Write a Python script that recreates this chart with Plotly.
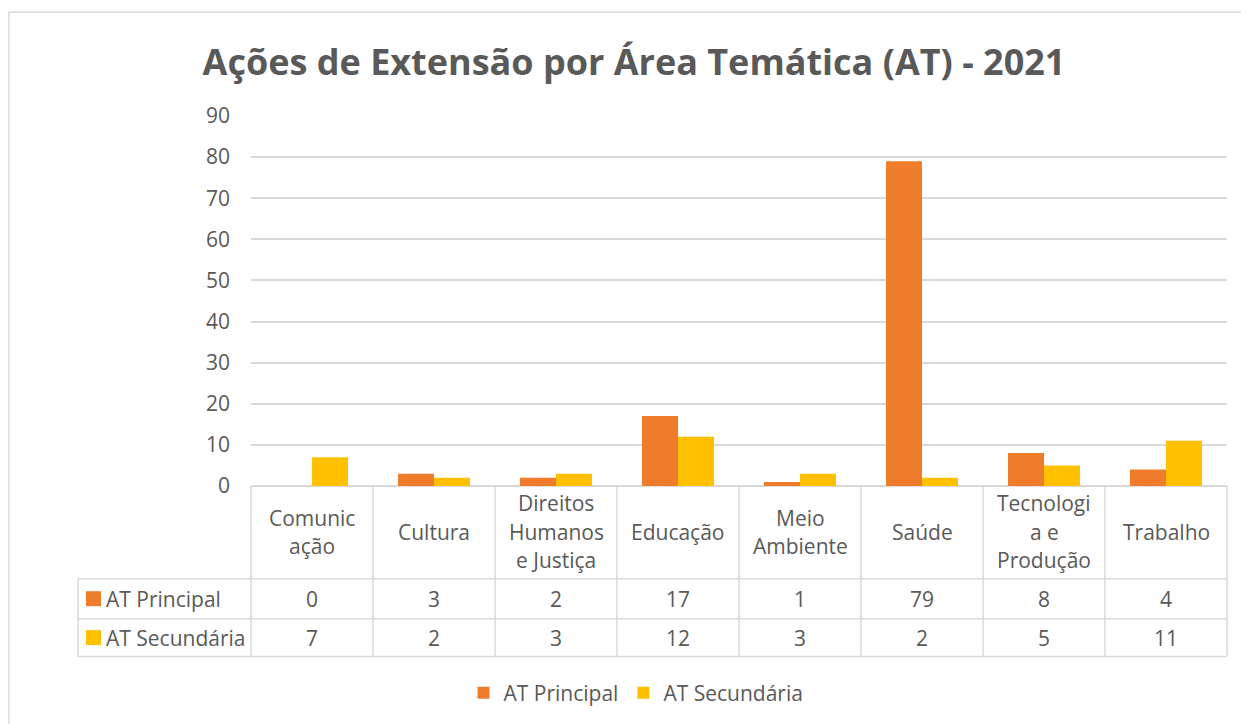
import plotly.graph_objects as go

# Dados
categorias = ["Comunicação", "Cultura", "Direitos Humanos e Justiça", "Educação",
              "Meio Ambiente", "Saúde", "Tecnologia e Produção", "Trabalho"]
rotulos = [["Comunic", "ação"], ["Cultura"], ["Direitos", "Humanos", "e Justiça"],
           ["Educação"], ["Meio", "Ambiente"], ["Saúde"],
           ["Tecnologi", "a e", "Produção"], ["Trabalho"]]
at_principal = [0, 3, 2, 17, 1, 79, 8, 4]
at_secundaria = [7, 2, 3, 12, 3, 2, 5, 11]
series = ["AT Principal", "AT Secundária"]
cores = ["#EF7C2A", "#FFC000"]

# a página tem margem de 8px no body; tudo é deslocado por isso
OFF = 8
W, H = 1249 - OFF, 724 - OFF
L, R, T, B = 251 - OFF, 1227 - OFF, 116 - OFF, 487 - OFF
CINZA = "#595959"
LINHA = "#D9D9D9"
FONTE = "Open Sans"
FS = 21


def px(x):
    return (x - OFF - L) / (R - L)


def py(y):
    return (B - (y - OFF)) / (B - T)


fig = go.Figure()
for nome, vals, cor in zip(series, [at_principal, at_secundaria], cores):
    fig.add_trace(go.Bar(x=categorias, y=vals, name=nome, marker_color=cor,
                         marker_line_width=0))

shapes = []
anots = []

# borda externa do gráfico
shapes.append(dict(type="rect", xref="paper", yref="paper", x0=px(9), x1=px(1270),
                   y0=py(760), y1=py(12), line=dict(color=LINHA, width=1.5)))

# tabela de dados
n = len(categorias)
larg = (1227 - 251) / n
for y in [580, 620, 658]:
    shapes.append(dict(type="line", xref="paper", yref="paper", x0=px(78), x1=px(1227),
                       y0=py(y), y1=py(y), line=dict(color=LINHA, width=1.5)))
for i in range(n + 1):
    shapes.append(dict(type="line", xref="paper", yref="paper", x0=px(251 + i * larg),
                       x1=px(251 + i * larg), y0=py(487), y1=py(658),
                       line=dict(color=LINHA, width=1.5)))
shapes.append(dict(type="line", xref="paper", yref="paper", x0=px(78), x1=px(78),
                   y0=py(580), y1=py(658), line=dict(color=LINHA, width=1.5)))

# cabeçalho das categorias
for i, linhas in enumerate(rotulos):
    k = len(linhas)
    for j, t in enumerate(linhas):
        yc = 533 + (j - (k - 1) / 2) * 28.5
        anots.append(dict(text=t, xref="paper", yref="paper", x=px(251 + (i + 0.5) * larg),
                          y=py(yc), showarrow=False, xanchor="center", yanchor="middle",
                          font=dict(size=FS, color=CINZA, family=FONTE)))

# valores e chaves da legenda
for nome, vals, cor, yc in zip(series, [at_principal, at_secundaria], cores, [600, 639]):
    shapes.append(dict(type="rect", xref="paper", yref="paper", x0=px(86), x1=px(101),
                       y0=py(yc + 7.5), y1=py(yc - 7.5), fillcolor=cor, line_width=0))
    anots.append(dict(text=nome, xref="paper", yref="paper", x=px(104), y=py(yc),
                      showarrow=False, xanchor="left", yanchor="middle",
                      font=dict(size=FS, color=CINZA, family=FONTE)))
    for i, v in enumerate(vals):
        anots.append(dict(text=str(v), xref="paper", yref="paper",
                          x=px(251 + (i + 0.5) * larg), y=py(yc), showarrow=False,
                          xanchor="center", yanchor="middle",
                          font=dict(size=FS, color=CINZA, family=FONTE)))

fig.update_layout(
    width=W, height=H,
    margin=dict(l=L, r=W - R, t=T, b=H - B),
    paper_bgcolor="white", plot_bgcolor="white",
    title=dict(text="<b>Ações de Extensão por Área Temática (AT) - 2021</b>",
               x=(634 - OFF) / W, xanchor="center", y=1 - (62 - OFF) / H, yanchor="middle",
               font=dict(size=36, color=CINZA, family=FONTE)),
    barmode="group", bargap=0.41, bargroupgap=0,
    showlegend=True,
    legend=dict(orientation="h", x=px(636), xanchor="center", y=py(693), yanchor="middle",
                font=dict(size=FS, color=CINZA, family=FONTE), traceorder="normal"),
    shapes=shapes, annotations=anots,
)
fig.update_xaxes(showticklabels=False, showgrid=False, showline=False, ticks="")
fig.update_yaxes(range=[0, 90], dtick=10, showgrid=True, gridcolor=LINHA, gridwidth=1.5,
                 zeroline=True, zerolinecolor=LINHA, zerolinewidth=1.5,
                 tickfont=dict(size=FS, color=CINZA, family=FONTE),
                 ticklabelstandoff=20, showline=False)

fig.write_html("out.html")
